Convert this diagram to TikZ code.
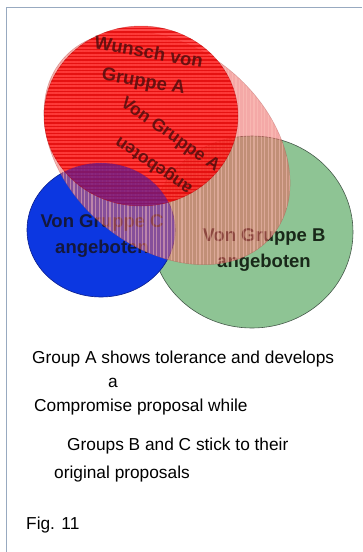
\documentclass[tikz,border=0pt]{standalone}
\usepackage{fontspec}
\setmainfont{Liberation Sans}
\begin{document}
\begin{tikzpicture}[x=1pt,y=-1pt]
\definecolor{framec}{RGB}{152,170,192}
\definecolor{greenf}{RGB}{142,196,148}
\definecolor{greend}{RGB}{70,90,75}
\definecolor{bluef}{RGB}{12,55,225}
\definecolor{blued}{RGB}{10,30,140}
\definecolor{pinkf}{RGB}{236,100,96}
\definecolor{pinkl}{RGB}{255,200,190}
\definecolor{redf}{RGB}{255,28,28}
\definecolor{redl}{RGB}{225,8,8}
\definecolor{purp}{RGB}{40,30,190}
\definecolor{labc}{RGB}{20,24,60}
\definecolor{labg}{RGB}{25,40,25}
\definecolor{laba}{RGB}{70,12,12}
\tikzset{
  lab/.style={font=\bfseries\fontsize{18.5}{26}\selectfont, inner sep=0pt, align=center},
  rlab/.style={font=\bfseries\fontsize{17.5}{20}\selectfont, inner sep=0pt, text=laba, opacity=0.8},
  captxt/.style={font=\fontsize{17.3}{20}\selectfont, anchor=base west, inner sep=0pt},
  pinkclip/.style={rotate around={-40:(pc)}},
}
\useasboundingbox (0,0) rectangle (362,552);
\fill[white] (0,0) rectangle (362,552);
\draw[framec, line width=1.6pt] (6.5,552) -- (6.5,7.5) -- (362,7.5);

\coordinate (gc) at (252,232);
\coordinate (bc) at (101,230);
\coordinate (pc) at (167,148);
\coordinate (rc) at (141,116);

% green and blue sets
\fill[greenf] (gc) ellipse [x radius=101, y radius=96];
\draw[greend, line width=0.6pt] (gc) ellipse [x radius=101, y radius=96];
\fill[bluef] (bc) ellipse [x radius=74, y radius=67];
\draw[blued, line width=0.6pt] (bc) ellipse [x radius=74, y radius=67];

\node[lab, text=labc] (lc) at (102,236) {Von Gruppe C\\angeboten};
\node[lab, text=labg] (lb) at (264,250) {Von Gruppe B\\angeboten};

% pink set with vertical stripes
\begin{scope}
  \clip[pinkclip] (pc) ellipse [x radius=137, y radius=100];
  \fill[pinkf, opacity=0.55] (0,0) rectangle (362,330);
  \foreach \xx in {20,23.6,...,320} \draw[pinkl, opacity=0.45, line width=1.1pt] (\xx,0) -- (\xx,330);
\end{scope}
\draw[pinkf!70!black, opacity=0.35, line width=0.5pt, pinkclip] (pc) ellipse [x radius=137, y radius=100];

% red set with horizontal stripes
\begin{scope}
  \clip (rc) ellipse [x radius=97, y radius=90];
  \fill[redf, opacity=0.8] (0,0) rectangle (362,330);
  \foreach \yy in {25,28.5,...,225} \draw[redl, opacity=0.8, line width=1.8pt] (0,\yy) -- (362,\yy);
  % red over blue reads purple
  \clip (bc) ellipse [x radius=74, y radius=67];
  \fill[purp, opacity=0.5] (0,0) rectangle (362,330);
\end{scope}
\draw[redl!70!black, opacity=0.4, line width=0.5pt] (rc) ellipse [x radius=97, y radius=90];

\node[lab, text=laba, opacity=0.8, rotate=-10, font=\bfseries\fontsize{18.5}{29}\selectfont] (lw) at (146,68) {Wunsch von\\Gruppe A};
\node[rlab, rotate=-35] (la1) at (170,135) {Von Gruppe A};
\node[rlab, rotate=146] (la2) at (154,165) {angeboten};

% caption
\node[captxt] (t1) at (32,363) {Group A shows tolerance and develops};
\node[captxt] (t2) at (108,387) {a};
\node[captxt] (t3) at (34,411) {Compromise proposal while};
\node[captxt] (t4) at (67,450) {Groups B and C stick to their};
\node[captxt] (t5) at (54,478) {original proposals};
\node[captxt] (t6) at (26,529) {Fig. 11};
\end{tikzpicture}
\end{document}
